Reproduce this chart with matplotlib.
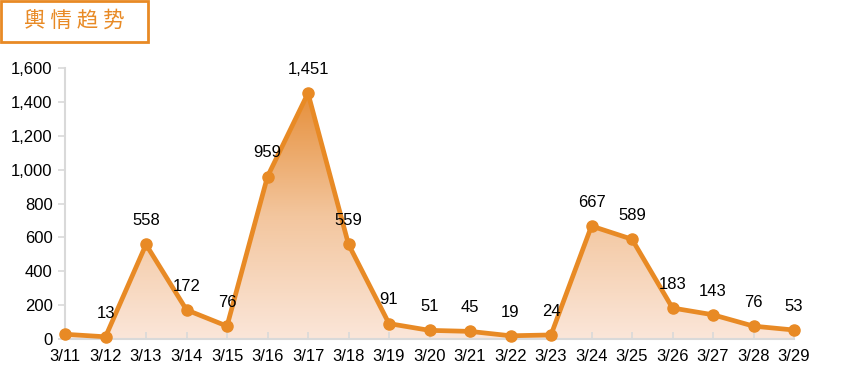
import numpy as np
import matplotlib.pyplot as plt
from matplotlib.patches import Rectangle
from matplotlib.colors import LinearSegmentedColormap

# Data
dates = ["3/11", "3/12", "3/13", "3/14", "3/15", "3/16", "3/17", "3/18", "3/19", "3/20",
         "3/21", "3/22", "3/23", "3/24", "3/25", "3/26", "3/27", "3/28", "3/29"]
counts = [28, 13, 558, 172, 76, 959, 1451, 559, 91, 51,
          45, 19, 24, 667, 589, 183, 143, 76, 53]
y_ticks = [0, 200, 400, 600, 800, 1000, 1200, 1400, 1600]
title = "輿 情 趋 势"

line_color = "#E88A25"
axis_color = "#D9D9D9"

plt.rcParams["font.family"] = ["Liberation Sans", "DejaVu Sans"]

fig = plt.figure(figsize=(8.58, 3.83), dpi=100)
ax = fig.add_axes([65 / 858, 1 - 339 / 383, (794 - 65) / 858, (339 - 68) / 383])

x = np.arange(len(dates))
y = np.array(counts)

# gradient area under the line
fill = ax.fill_between(x, y, 0, color="none", lw=0)
grad = np.linspace(0, 1, 256).reshape(-1, 1)
cmap = LinearSegmentedColormap.from_list("g", ["#FBE6D9", "#F3C69E", "#E68F3A"])
img = ax.imshow(grad, extent=[0, len(dates) - 1, 0, max(counts)], origin="lower",
                aspect="auto", cmap=cmap, zorder=1)
img.set_clip_path(fill.get_paths()[0], transform=ax.transData)

ax.plot(x, y, color=line_color, lw=3.4, marker="o", ms=8, zorder=3,
        solid_joinstyle="round", clip_on=False)

for xi, yi in zip(x[1:], y[1:]):
    ax.annotate(f"{yi:,}", (xi, yi), xytext=(0, 17), textcoords="offset points",
                ha="center", va="center", fontsize=12, color="black")

ax.set_xlim(0, len(dates) - 1)
ax.set_ylim(0, 1600)
ax.set_xticks(x)
ax.set_xticklabels(dates, fontsize=12)
ax.set_yticks(y_ticks)
ax.set_yticklabels([f"{v:,}" for v in y_ticks], fontsize=12)

for side in ["top", "right"]:
    ax.spines[side].set_visible(False)
for side in ["left", "bottom"]:
    ax.spines[side].set_color(axis_color)
    ax.spines[side].set_linewidth(1.5)
ax.tick_params(axis="x", direction="in", length=5, color=axis_color, width=1.2, pad=7)
ax.tick_params(axis="y", direction="out", length=5, color=axis_color, width=1.2, pad=4)

# title box
fig.patches.append(Rectangle((1 / 858, 1 - 42 / 383), 147 / 858, 41 / 383,
                             transform=fig.transFigure, fill=False,
                             edgecolor=line_color, lw=2))
fig.text(74 / 858, 1 - 21 / 383, title, ha="center", va="center", fontsize=15.5,
         color=line_color, family=["Noto Sans CJK SC", "DejaVu Sans"])

fig.savefig("out.png", dpi=100)
